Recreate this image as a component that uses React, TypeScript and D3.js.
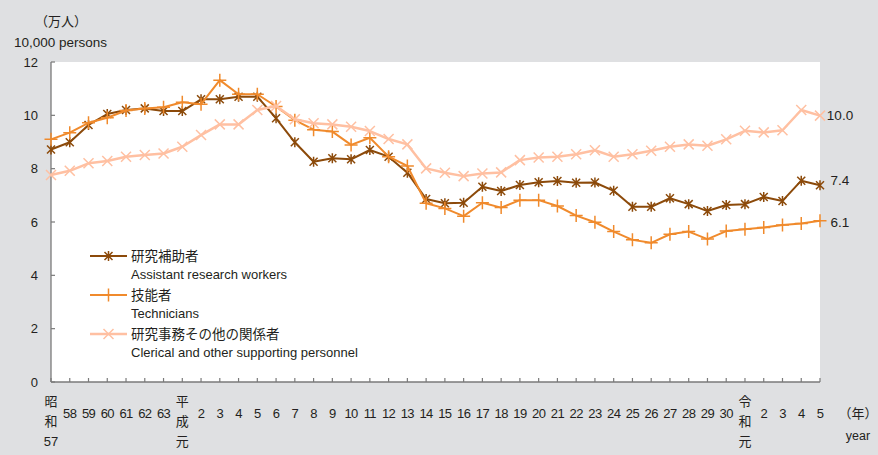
import React from 'react'
import * as d3 from 'd3'

// x categories (Showa 57 .. Reiwa 5)
const years = [
  '昭和57', '58', '59', '60', '61', '62', '63',
  '平成元', '2', '3', '4', '5', '6', '7', '8', '9', '10', '11', '12', '13', '14', '15',
  '16', '17', '18', '19', '20', '21', '22', '23', '24', '25', '26', '27', '28', '29', '30',
  '令和元', '2', '3', '4', '5',
]

// 研究補助者
const assistants = [
  8.72, 8.99, 9.64, 10.05, 10.2, 10.26, 10.16,
  10.16, 10.6, 10.6, 10.7, 10.7, 9.89, 8.99, 8.26, 8.39, 8.35, 8.7, 8.45, 7.85, 6.86, 6.7,
  6.72, 7.32, 7.16, 7.39, 7.49, 7.54, 7.47, 7.48, 7.17, 6.57, 6.57, 6.89, 6.67, 6.41, 6.64,
  6.67, 6.94, 6.79, 7.55, 7.38,
]

// 技能者
const technicians = [
  9.1, 9.35, 9.72, 9.91, 10.18, 10.26, 10.3,
  10.49, 10.42, 11.32, 10.79, 10.79, 10.33, 9.82, 9.46, 9.39, 8.89, 9.16, 8.45, 8.1, 6.7, 6.51,
  6.22, 6.72, 6.54, 6.82, 6.82, 6.6, 6.24, 5.99, 5.64, 5.33, 5.22, 5.54, 5.64, 5.36, 5.66,
  5.73, 5.79, 5.89, 5.94, 6.05,
]

// 研究事務その他の関係者
const clerical = [
  7.76, 7.92, 8.2, 8.29, 8.45, 8.51, 8.57,
  8.82, 9.26, 9.66, 9.66, 10.2, 10.35, 9.85, 9.7, 9.66, 9.57, 9.41, 9.11, 8.91, 8.01, 7.85,
  7.72, 7.82, 7.86, 8.32, 8.42, 8.45, 8.54, 8.69, 8.45, 8.54, 8.67, 8.82, 8.91, 8.86, 9.1,
  9.42, 9.36, 9.44, 10.2, 9.99,
]

const yTicks = [0, 2, 4, 6, 8, 10, 12]
const endLabels = ['7.4', '6.1', '10.0']

const W = 878
const H = 455
const M = { left: 51, right: 820, top: 62, bottom: 382 }
const BG = '#dfe0e2'
const TXT = '#231f20'
const AXIS = '#7a7a7a'
const JP = '"Noto Sans CJK JP", sans-serif'
const LAT = '"Liberation Sans", Arial, sans-serif'

const series = [
  { jp: '研究補助者', en: 'Assistant research workers', values: assistants, color: '#8c4a0a', width: 2, marker: 'star', nudge: -5 },
  { jp: '技能者', en: 'Technicians', values: technicians, color: '#f08a2c', width: 2, marker: 'plus', nudge: 2 },
  { jp: '研究事務その他の関係者', en: 'Clerical and other supporting personnel', values: clerical, color: '#ffc0a2', width: 2.5, marker: 'x', nudge: 0 },
]

const markerPath = (kind: string) => {
  if (kind === 'star') return 'M-4,-4L4,4M-4,4L4,-4M0,-5L0,5'
  if (kind === 'plus') return 'M-6.5,0L6.5,0M0,-6.5L0,6.5'
  return 'M-5,-5L5,5M-5,5L5,-5'
}

export default function App() {
  const x = d3.scalePoint<number>().domain(d3.range(years.length)).range([M.left, M.right])
  const y = d3.scaleLinear().domain([0, 12]).range([M.bottom, M.top])
  const line = d3
    .line<number>()
    .x((_, i) => x(i) as number)
    .y(d => y(d))

  return (
    <div style={{ position: 'absolute', left: 0, top: 0 }}>
      <svg width={W} height={H} style={{ display: 'block' }}>
        <rect width={W} height={H} fill={BG} />
        <rect x={M.left} y={M.top} width={M.right - M.left} height={M.bottom - M.top} fill="#fff" />

        {/* unit labels */}
        <text x={35} y={21} dy="0.35em" fontFamily={JP} fontSize={13} fill={TXT}>（万人）</text>
        <text x={14} y={42} dy="0.35em" fontFamily={LAT} fontSize={13.5} fill={TXT}>10,000 persons</text>

        {/* y axis */}
        <line x1={M.left} x2={M.left} y1={M.top} y2={M.bottom} stroke={AXIS} strokeWidth={1.3} />
        {yTicks.map(t => (
          <g key={t}>
            <line x1={M.left} x2={M.left + 4} y1={y(t)} y2={y(t)} stroke={AXIS} strokeWidth={1.2} />
            <text x={38} y={y(t)} dy="0.35em" textAnchor="end" fontFamily={LAT} fontSize={13} fill={TXT}>
              {t}
            </text>
          </g>
        ))}

        {/* x axis */}
        <line x1={M.left} x2={M.right} y1={M.bottom} y2={M.bottom} stroke={AXIS} strokeWidth={1.3} />
        {years.map((lab, i) => {
          const xi = x(i) as number
          const stacked = lab.length > 2 && isNaN(Number(lab))
          return (
            <g key={i}>
              <line x1={xi} x2={xi} y1={M.bottom} y2={M.bottom - 4} stroke={AXIS} strokeWidth={1.2} />
              {stacked ? (
                [lab[0], lab[1], lab.slice(2)].map((ch, k) => (
                  <text key={k} x={xi} y={401 + k * 20} dy="0.35em" textAnchor="middle"
                    fontFamily={k === 2 && ch !== '元' ? LAT : JP} fontSize={13} fill={TXT}>
                    {ch}
                  </text>
                ))
              ) : (
                <text x={xi} y={413} dy="0.35em" textAnchor="middle" fontFamily={LAT} fontSize={13}
                  letterSpacing={-0.6} fill={TXT}>
                  {lab}
                </text>
              )}
            </g>
          )
        })}
        <text x={858} y={413} dy="0.35em" textAnchor="middle" fontFamily={JP} fontSize={13} fill={TXT}>（年）</text>
        <text x={858} y={436} dy="0.35em" textAnchor="middle" fontFamily={LAT} fontSize={12.5} fill={TXT}>year</text>

        {/* series */}
        {series.map(s => (
          <g key={s.jp}>
            <path d={line(s.values) as string} fill="none" stroke={s.color} strokeWidth={s.width} strokeLinejoin="round" />
            {s.values.map((v, i) => (
              <path key={i} d={markerPath(s.marker)} transform={`translate(${x(i)},${y(v)})`}
                stroke={s.color} strokeWidth={1.5} fill="none" />
            ))}
          </g>
        ))}

        {/* end labels */}
        {series.map((s, k) => (
          <text key={k} x={840} y={y(s.values[s.values.length - 1]) + s.nudge} dy="0.35em" textAnchor="middle"
            fontFamily={LAT} fontSize={13.5} fill={TXT}>
            {endLabels[k]}
          </text>
        ))}

        {/* legend */}
        {series.map((s, k) => {
          const ly = 256 + k * 39
          return (
            <g key={s.jp}>
              <line x1={90} x2={127} y1={ly} y2={ly} stroke={s.color} strokeWidth={s.width} />
              <path d={markerPath(s.marker)} transform={`translate(108.5,${ly})`} stroke={s.color} strokeWidth={1.5} fill="none" />
              <text x={131} y={ly} dy="0.35em" fontFamily={JP} fontSize={13.5} fill={TXT}>{s.jp}</text>
              <text x={131} y={ly + 18} dy="0.35em" fontFamily={LAT} fontSize={13} fill={TXT}>{s.en}</text>
            </g>
          )
        })}
      </svg>
    </div>
  )
}
